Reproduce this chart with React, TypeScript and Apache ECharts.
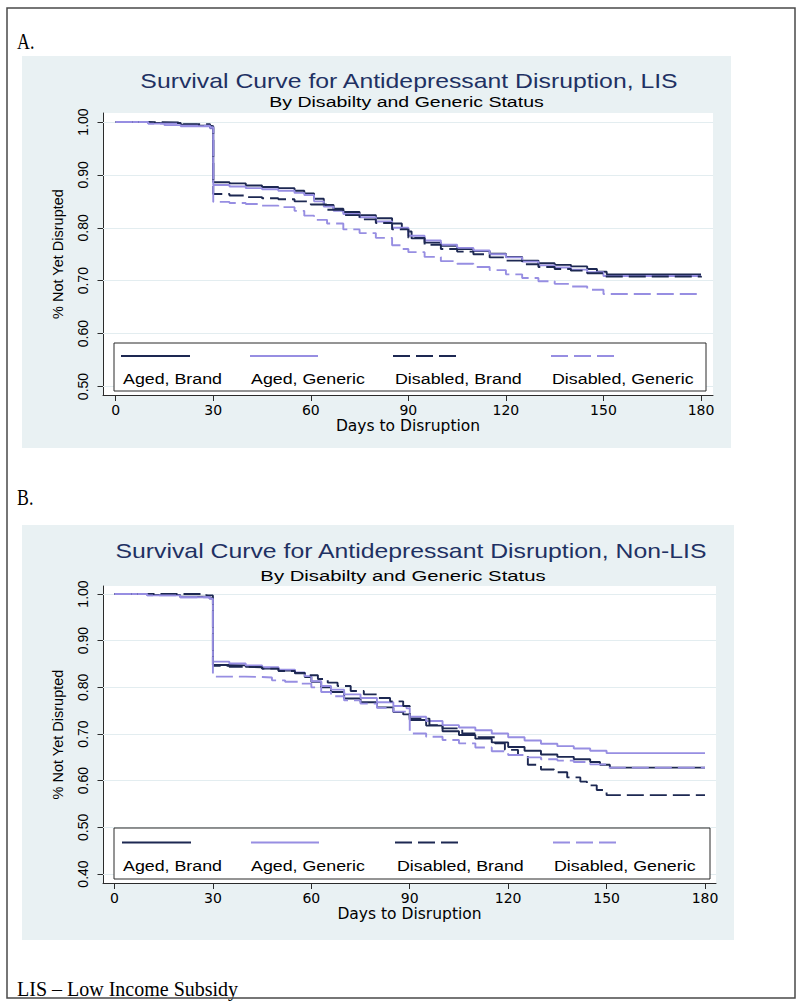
import React, { useEffect, useRef } from "react";
import * as echarts from "echarts";

// ---------------- DATA ----------------
const seriesNames = ["Aged, Brand", "Aged, Generic", "Disabled, Brand", "Disabled, Generic"];
const xTicks = [0, 30, 60, 90, 120, 150, 180];
const yTicksLIS = [0.5, 0.6, 0.7, 0.8, 0.9, 1.0];
const yTicksNonLIS = [0.4, 0.5, 0.6, 0.7, 0.8, 0.9, 1.0];

// Panel A: LIS  [day, proportion not yet disrupted]
const lisAgedBrand: [number, number][] = [
  [0, 1.0], [10, 0.998], [20, 0.995], [25, 0.993], [29, 0.992], [30, 0.886], [35, 0.884], [40, 0.88],
  [45, 0.877], [50, 0.875], [55, 0.87], [58, 0.865], [61, 0.855], [64, 0.843], [67, 0.836], [70, 0.83],
  [75, 0.824], [80, 0.818], [85, 0.808], [88, 0.798], [90, 0.793], [91, 0.78], [95, 0.772], [100, 0.766],
  [105, 0.76], [110, 0.756], [115, 0.751], [120, 0.745], [125, 0.738], [130, 0.733], [135, 0.73],
  [140, 0.727], [145, 0.722], [148, 0.717], [151, 0.712], [180, 0.712],
];
const lisAgedGeneric: [number, number][] = [
  [0, 1.0], [10, 0.997], [15, 0.994], [20, 0.992], [29, 0.988], [30, 0.881], [35, 0.878], [40, 0.875],
  [45, 0.873], [50, 0.87], [55, 0.866], [58, 0.862], [61, 0.85], [64, 0.84], [67, 0.832], [70, 0.826],
  [75, 0.82], [80, 0.812], [85, 0.8], [90, 0.785], [95, 0.776], [100, 0.768], [105, 0.762], [110, 0.757],
  [115, 0.75], [120, 0.744], [125, 0.736], [130, 0.729], [135, 0.725], [140, 0.721], [145, 0.716],
  [150, 0.709], [180, 0.708],
];
const lisDisabledBrand: [number, number][] = [
  [0, 1.0], [10, 0.999], [20, 0.996], [29, 0.99], [30, 0.864], [35, 0.861], [40, 0.858], [45, 0.856],
  [50, 0.854], [55, 0.85], [60, 0.844], [65, 0.834], [70, 0.824], [75, 0.816], [80, 0.809], [85, 0.797],
  [90, 0.781], [95, 0.768], [100, 0.76], [105, 0.755], [110, 0.75], [115, 0.744], [120, 0.738],
  [125, 0.731], [130, 0.726], [135, 0.722], [140, 0.719], [145, 0.714], [150, 0.708], [180, 0.706],
];
const lisDisabledGeneric: [number, number][] = [
  [0, 1.0], [10, 0.997], [20, 0.993], [29, 0.99], [30, 0.849], [35, 0.847], [40, 0.845], [45, 0.842],
  [50, 0.839], [55, 0.832], [58, 0.823], [61, 0.815], [65, 0.808], [70, 0.797], [75, 0.79], [80, 0.781],
  [85, 0.767], [88, 0.76], [90, 0.754], [95, 0.745], [100, 0.737], [105, 0.732], [110, 0.726],
  [115, 0.72], [120, 0.712], [125, 0.705], [130, 0.699], [135, 0.694], [140, 0.689], [145, 0.683],
  [150, 0.675], [180, 0.673],
];

// Panel B: Non-LIS
const nonAgedBrand: [number, number][] = [
  [0, 1.0], [10, 0.998], [20, 0.994], [29, 0.991], [30, 0.848], [35, 0.847], [40, 0.844], [45, 0.84],
  [50, 0.836], [55, 0.83], [58, 0.822], [60, 0.812], [63, 0.8], [66, 0.79], [70, 0.776], [75, 0.768],
  [80, 0.757], [85, 0.747], [88, 0.742], [90, 0.73], [95, 0.718], [100, 0.706], [105, 0.698],
  [110, 0.69], [115, 0.682], [120, 0.672], [125, 0.664], [130, 0.656], [135, 0.651], [140, 0.646],
  [145, 0.64], [148, 0.634], [151, 0.628], [180, 0.628],
];
const nonAgedGeneric: [number, number][] = [
  [0, 1.0], [10, 0.997], [20, 0.993], [29, 0.99], [30, 0.855], [35, 0.851], [40, 0.847], [45, 0.843],
  [50, 0.838], [55, 0.832], [58, 0.824], [60, 0.813], [63, 0.803], [66, 0.795], [70, 0.785], [75, 0.777],
  [80, 0.768], [85, 0.76], [89, 0.755], [90, 0.737], [95, 0.728], [100, 0.719], [105, 0.714],
  [110, 0.708], [115, 0.701], [120, 0.693], [125, 0.686], [130, 0.679], [135, 0.674], [140, 0.669],
  [145, 0.664], [150, 0.659], [180, 0.658],
];
const nonDisabledBrand: [number, number][] = [
  [0, 1.0], [15, 1.0], [27, 1.0], [28, 0.997], [30, 0.846], [35, 0.844], [40, 0.843], [45, 0.84],
  [50, 0.835], [55, 0.831], [58, 0.826], [62, 0.818], [65, 0.81], [68, 0.803], [72, 0.792], [76, 0.785],
  [80, 0.777], [84, 0.77], [88, 0.76], [90, 0.733], [96, 0.719], [100, 0.712], [106, 0.701],
  [111, 0.693], [116, 0.68], [119, 0.666], [123, 0.655], [126, 0.634], [130, 0.624], [134, 0.618],
  [138, 0.607], [142, 0.598], [144, 0.59], [147, 0.58], [150, 0.569], [180, 0.569],
];
const nonDisabledGeneric: [number, number][] = [
  [0, 1.0], [10, 0.997], [20, 0.993], [29, 0.99], [30, 0.823], [40, 0.822], [45, 0.821], [48, 0.815],
  [52, 0.812], [56, 0.808], [60, 0.8], [63, 0.79], [66, 0.781], [70, 0.772], [75, 0.765], [80, 0.756],
  [85, 0.748], [89, 0.742], [90, 0.701], [95, 0.694], [100, 0.687], [105, 0.68], [110, 0.671],
  [115, 0.663], [120, 0.655], [125, 0.65], [130, 0.646], [135, 0.643], [140, 0.64], [145, 0.635],
  [150, 0.628], [180, 0.628],
];

// ---------------- STYLE / LAYOUT ----------------
const NAVY = "#1d2852";
const LAV = "#978ee2";
const TITLE_C = "#1f3163";
const BG = "#e9f1f3";
const GRID_C = "#e3edf0";
const AXIS_C = "#2b2b2b";
const DASH = [17, 6];
const lineStyles = [
  { color: NAVY, dash: null as null | number[] },
  { color: LAV, dash: null as null | number[] },
  { color: NAVY, dash: DASH },
  { color: LAV, dash: DASH },
];
const SANS = "'Liberation Sans', Arial, sans-serif";
const SERIF = "'Liberation Serif', 'Times New Roman', serif";

type Panel = {
  label: string; labelY: number;
  title: string; titleX: number; titleY: number; subX: number; subY: number; subScale: number;
  bg: [number, number, number, number];
  plot: { l: number; t: number; r: number; b: number };
  x0: number; x180: number; y1: number; yLowVal: number; yLowPx: number;
  yTicks: number[];
  curves: [number, number][][];
  legend: { l: number; t: number; r: number; b: number; sampleY: number; textY: number; samples: [number, number][]; textX: number[] };
};

const panels: Panel[] = [
  {
    label: "A.", labelY: 41,
    title: "Survival Curve for Antidepressant Disruption, LIS", titleX: 409, titleY: 81,
    subX: 406.5, subY: 102, subScale: 1.26,
    bg: [22, 56, 709, 392],
    plot: { l: 103, t: 113, r: 713, b: 395 },
    x0: 115.7, x180: 701, y1: 122, yLowVal: 0.5, yLowPx: 386.5,
    yTicks: yTicksLIS,
    curves: [lisAgedBrand, lisAgedGeneric, lisDisabledBrand, lisDisabledGeneric],
    legend: {
      l: 114, t: 343, r: 706, b: 391, sampleY: 356, textY: 378.5,
      samples: [[121, 190], [250, 318], [393, 462], [551, 619]],
      textX: [123, 251, 395, 552],
    },
  },
  {
    label: "B.", labelY: 497,
    title: "Survival Curve for Antidepressant Disruption, Non-LIS", titleX: 411, titleY: 551,
    subX: 403, subY: 575.5, subScale: 1.31,
    bg: [22, 525, 712, 415],
    plot: { l: 103, t: 586, r: 716, b: 883 },
    x0: 114.5, x180: 705, y1: 594, yLowVal: 0.4, yLowPx: 874,
    yTicks: yTicksNonLIS,
    curves: [nonAgedBrand, nonAgedGeneric, nonDisabledBrand, nonDisabledGeneric],
    legend: {
      l: 114, t: 828, r: 710, b: 879, sampleY: 842.5, textY: 866,
      samples: [[122, 191], [251, 319], [395, 463], [553, 622]],
      textX: [123, 251, 397, 554],
    },
  },
];

function textEl(text: string, x: number, y: number, size: number, family: string, fill: string,
  align: string, scaleX = 1, scaleY = 1, z = 20) {
  return {
    type: "text", x, y, scaleX, scaleY, z, silent: true,
    style: {
      text, fontSize: size, fontFamily: family, fill,
      align, verticalAlign: "middle", textAlign: align, textVerticalAlign: "middle",
    },
  };
}

function buildOption() {
  const grids: any[] = [];
  const xAxes: any[] = [];
  const yAxes: any[] = [];
  const series: any[] = [];
  const graphics: any[] = [];

  graphics.push({
    type: "rect", z: 30, silent: true,
    shape: { x: 7, y: 8, width: 788, height: 990 },
    style: { fill: "none", stroke: "#4a4a4a", lineWidth: 1.5 },
  });
  graphics.push(textEl("LIS – Low Income Subsidy", 17, 988.5, 20, SERIF, "#000", "left"));

  panels.forEach((p, i) => {
    const kx = (p.x180 - p.x0) / 180;
    const ky = (p.yLowPx - p.y1) / (1 - p.yLowVal);
    grids.push({
      left: p.plot.l, top: p.plot.t,
      width: p.plot.r - p.plot.l, height: p.plot.b - p.plot.t,
      show: false, containLabel: false,
    });
    xAxes.push({
      type: "value", gridIndex: i,
      min: -(p.x0 - p.plot.l) / kx,
      max: 180 + (p.plot.r - p.x180) / kx,
      name: "Days to Disruption", nameLocation: "middle", nameGap: 22,
      nameTextStyle: { fontFamily: "DejaVu Sans", fontSize: 15.5, color: "#000" },
      axisLine: { show: true, onZero: false, lineStyle: { color: AXIS_C, width: 1 } },
      axisTick: { show: true, length: 6, customValues: xTicks, lineStyle: { color: AXIS_C, width: 1 } },
      axisLabel: {
        customValues: xTicks, margin: 8, fontFamily: "DejaVu Sans", fontSize: 14, color: "#000",
        formatter: (v: number) => String(v),
      },
      splitLine: { show: false },
    });
    yAxes.push({
      type: "value", gridIndex: i,
      min: p.yLowVal - (p.plot.b - p.yLowPx) / ky,
      max: 1 + (p.y1 - p.plot.t) / ky,
      name: "% Not Yet Disrupted", nameLocation: "middle", nameRotate: 90, nameGap: 38,
      nameTextStyle: { fontFamily: SANS, fontSize: 14.5, color: "#000" },
      axisLine: { show: true, onZero: false, lineStyle: { color: AXIS_C, width: 1 } },
      axisTick: { show: true, length: 5.5, customValues: p.yTicks, lineStyle: { color: AXIS_C, width: 1 } },
      axisLabel: {
        customValues: p.yTicks, rotate: 90, margin: 13, fontFamily: SANS, fontSize: 14, color: "#000",
        formatter: (v: number) => v.toFixed(2),
      },
      splitLine: { show: false },
    });

    p.curves.forEach((data, j) => {
      const st = lineStyles[j];
      const s: any = {
        name: (i === 0 ? "LIS " : "Non-LIS ") + seriesNames[j],
        type: "line", xAxisIndex: i, yAxisIndex: i,
        data, step: "end", symbol: "none", showSymbol: false, silent: true, z: 3 + j,
        lineStyle: { color: st.color, width: 1.9, type: st.dash ? st.dash : "solid" },
        emphasis: { disabled: true },
      };
      if (j === 0) {
        s.markLine = {
          silent: true, z: 1, symbol: ["none", "none"], label: { show: false },
          emphasis: { disabled: true },
          lineStyle: { color: GRID_C, width: 1, type: "solid" },
          data: p.yTicks.map((v) => ({ yAxis: v })),
        };
      }
      series.push(s);
    });

    // panel background and plot region
    graphics.push({
      type: "rect", z: -2, silent: true,
      shape: { x: p.bg[0], y: p.bg[1], width: p.bg[2], height: p.bg[3] },
      style: { fill: BG },
    });
    graphics.push({
      type: "rect", z: -1, silent: true,
      shape: { x: p.plot.l, y: p.plot.t, width: p.plot.r - p.plot.l, height: p.plot.b - p.plot.t },
      style: { fill: "#ffffff" },
    });
    graphics.push(textEl(p.label, 17, p.labelY, 21, SERIF, "#000", "left", 0.85, 1.05));
    graphics.push(textEl(p.title, p.titleX, p.titleY, 20, SANS, TITLE_C, "center", 1.24));
    graphics.push(textEl("By Disabilty and Generic Status", p.subX, p.subY, 15.5, SANS, "#000", "center", p.subScale));

    // legend
    const L = p.legend;
    graphics.push({
      type: "rect", z: 15, silent: true,
      shape: { x: L.l, y: L.t, width: L.r - L.l, height: L.b - L.t },
      style: { fill: "#ffffff", stroke: AXIS_C, lineWidth: 1 },
    });
    L.samples.forEach((sm, j) => {
      const st = lineStyles[j];
      graphics.push({
        type: "line", z: 16, silent: true,
        shape: { x1: sm[0], y1: L.sampleY, x2: sm[1], y2: L.sampleY },
        style: { stroke: st.color, lineWidth: 2, lineDash: st.dash ? st.dash : null },
      });
      graphics.push(textEl(seriesNames[j], L.textX[j], L.textY, 15.5, SANS, "#000", "left", 1.15, 1, 16));
    });
  });

  return {
    animation: false,
    backgroundColor: "#ffffff",
    grid: grids,
    xAxis: xAxes,
    yAxis: yAxes,
    series,
    graphic: { elements: graphics },
  };
}

export default function App() {
  const ref = useRef<HTMLDivElement>(null);
  useEffect(() => {
    if (!ref.current) return;
    const chart = echarts.init(ref.current, undefined, { renderer: "svg", width: 800, height: 1007 });
    chart.setOption(buildOption() as any);
    return () => chart.dispose();
  }, []);
  return (
    <div
      ref={ref}
      style={{ position: "absolute", left: 0, top: 0, width: 800, height: 1007, background: "#fff" }}
    />
  );
}
